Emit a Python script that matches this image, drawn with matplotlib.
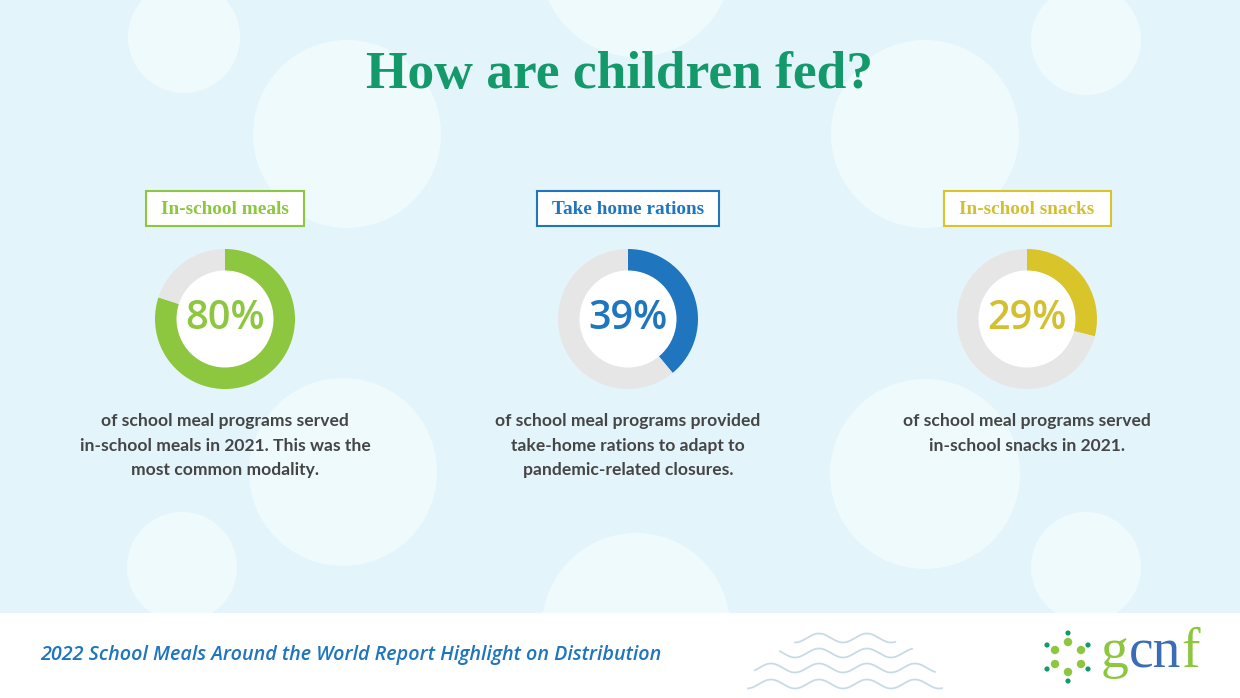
import numpy as np
import matplotlib
matplotlib.use("Agg")
import matplotlib.pyplot as plt
from matplotlib.patches import Circle, Rectangle

# ---- data ----
categories = ["In-school meals", "Take home rations", "In-school snacks"]
percent_values = [80, 39, 29]
descriptions = [
    "of school meal programs served\nin-school meals in 2021. This was the\nmost common modality.",
    "of school meal programs provided\ntake-home rations to adapt to\npandemic-related closures.",
    "of school meal programs served\nin-school snacks in 2021.",
]
title = "How are children fed?"
footer = "2022 School Meals Around the World Report Highlight on Distribution"
logo_parts = ["g", "cn", "f"]

# ---- style ----
W, H = 1240, 698
def Y(p):
    return H - p

bg = "#E4F4FB"
bubble = "#EFFAFD"
accent = ["#8DC63F", "#1F75BE", "#D9C42A"]
label_col = ["#8DC63F", "#1F75BE", "#D2C030"]
grey = "#E6E6E6"
centers_x = [225, 628, 1027]
cy = 319

fig = plt.figure(figsize=(W / 100, H / 100), dpi=100)
fig.patch.set_facecolor(bg)
ax = fig.add_axes([0, 0, 1, 1])
ax.set_facecolor(bg)

# background bubbles
for (bx, by, br) in [(184, 37, 56), (347, 134, 94), (636, -39, 96), (1086, 40, 55),
                     (925, 134, 94), (343, 472, 94), (925, 474, 95), (182, 567, 55),
                     (636, 627, 94), (1086, 567, 55)]:
    ax.add_patch(Circle((bx, Y(by)), br, facecolor=bubble, edgecolor="none", zorder=1))

# footer panel
ax.add_patch(Rectangle((0, 0), W, H - 613, facecolor="white", edgecolor="none", zorder=2))

# title
ax.text(620, Y(75), title, ha="center", va="center", fontsize=38.5, fontweight="bold",
        family="Liberation Serif", color="#14996B", zorder=5)

for i, (cat, val, desc) in enumerate(zip(categories, percent_values, descriptions)):
    x = centers_x[i]
    # label box
    bw = [158, 182, 167][i]
    ax.add_patch(Rectangle((x - bw / 2, Y(226)), bw, 35, facecolor="white",
                           edgecolor=accent[i], linewidth=1.5, zorder=4))
    ax.text(x, Y(209), cat, ha="center", va="center", fontsize=13.9, fontweight="bold",
            family="Liberation Serif", color=label_col[i], zorder=5)
    # donut
    wedges, _ = ax.pie([val, 100 - val], colors=[accent[i], grey], startangle=90,
                       counterclock=False, center=(x, Y(cy)), radius=70,
                       wedgeprops=dict(width=22, edgecolor="none"))
    for w in wedges:
        w.set_zorder(4)
    ax.add_patch(Circle((x, Y(cy)), 48.5, facecolor="white", edgecolor="none", zorder=4))
    ax.text(x, Y(cy), f"{val}%", ha="center", va="center", fontsize=28.5,
            family="Open Sans", fontweight="semibold", color=label_col[i], zorder=5)
    # description
    ax.text(x, Y(413), desc, ha="center", va="top", fontsize=12.6, family="Lato",
            fontweight="bold", color="#454545", linespacing=1.67, zorder=5)

# footer text
ax.text(40, Y(655), footer, ha="left", va="center", fontsize=14.2, family="Open Sans",
        fontweight="semibold", style="italic", color="#1F75BE", zorder=5)

# waves
wave_rows = [(795, 895, 638), (780, 912, 653), (755, 935, 668), (748, 942, 684)]
for (x0, x1, yy) in wave_rows:
    xs = np.linspace(x0, x1, 300)
    ys = yy + 4.5 * np.sin(2 * np.pi * (xs - 795) / 48 + np.pi / 2)
    ax.plot(xs, [Y(v) for v in ys], color="#C8DBE5", linewidth=1.3, zorder=5)

# logo
big = [(1068, 642), (1055, 650), (1081, 650), (1055, 664), (1081, 664), (1068, 672)]
small = [(1068, 633), (1047, 645), (1088, 645), (1047, 669), (1088, 669), (1068, 681)]
for (px, py) in big:
    ax.add_patch(Circle((px, Y(py)), 4.2, facecolor="#8DC63F", edgecolor="none", zorder=6))
for (px, py) in small:
    ax.add_patch(Circle((px, Y(py)), 2.6, facecolor="#139A6C", edgecolor="none", zorder=6))

ax.set_xlim(0, W)
ax.set_ylim(0, H)
ax.set_aspect("auto")
ax.axis("off")

renderer = fig.canvas.get_renderer()
lx = 1101
for part, col in zip(logo_parts, ["#8DC63F", "#3A6DB5", "#8DC63F"]):
    t = ax.text(lx, Y(667), part, ha="left", va="baseline", fontsize=40,
                family="Liberation Serif", color=col, zorder=6)
    bb = t.get_window_extent(renderer)
    lx += bb.width

fig.savefig("out.png", dpi=100, facecolor=bg)
